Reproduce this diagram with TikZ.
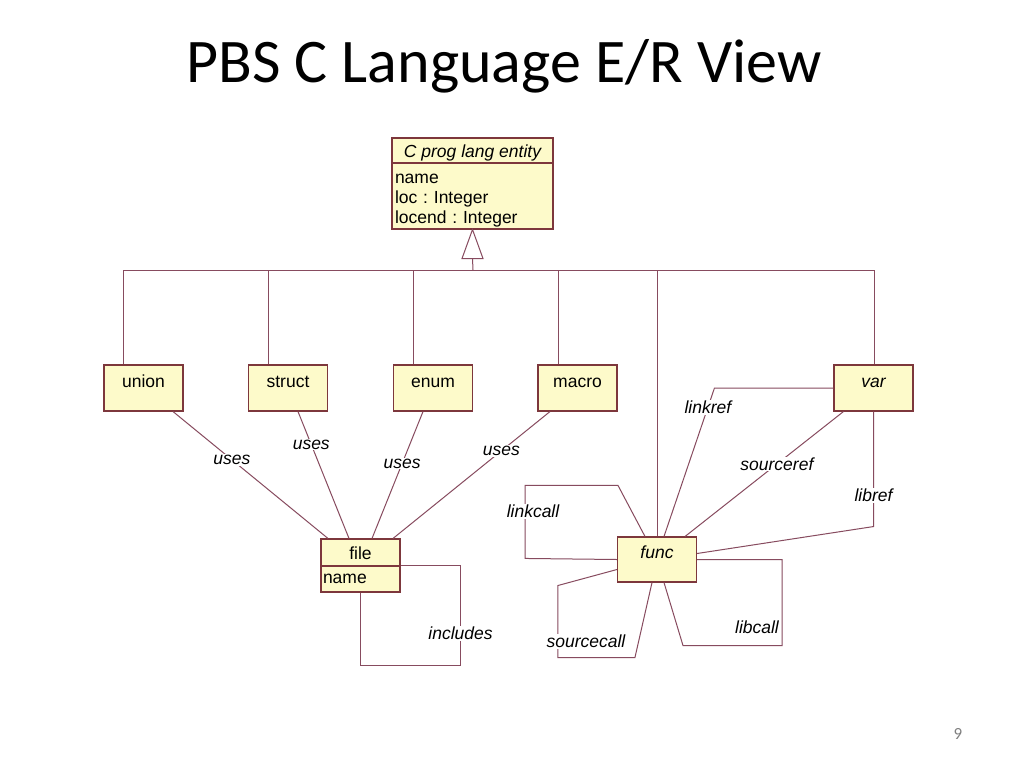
\documentclass[tikz,border=0pt]{standalone}
\usepackage{fontspec}
\setmainfont{Carlito}
\newfontfamily\umlfont{Liberation Sans}
\usetikzlibrary{calc}
\frenchspacing

\definecolor{boxfill}{RGB}{253,250,202}
\definecolor{boxline}{RGB}{125,55,60}
\definecolor{relline}{RGB}{135,75,95}

\tikzset{
  cls/.style={draw=boxline,fill=boxfill,line width=1.1pt,minimum width=79pt,minimum height=46pt,
    inner sep=0pt,text height=12pt,text depth=14pt,font=\umlfont\fontsize{17.5}{20}\selectfont},
  clspart/.style={draw=boxline,fill=boxfill,line width=1.1pt,inner sep=0pt,
    font=\umlfont\fontsize{17.5}{20}\selectfont},
  rel/.style={draw=relline,line width=1pt},
  lbl/.style={fill=white,inner sep=1pt,font=\umlfont\itshape\fontsize{17.5}{20}\selectfont}
}

\begin{document}
\begin{tikzpicture}[x=1pt,y=-1pt]
  \useasboundingbox[fill=white] (0,0) rectangle (1024,768);

  \node[anchor=base,font=\fontsize{62}{74}\selectfont] (title) at (504,82) {PBS C Language E/R View};
  \node[anchor=base,text=gray,font=\fontsize{17}{20}\selectfont] (pageno) at (958,739) {9};

  % base class
  \node[clspart,minimum width=161pt,minimum height=25pt,text height=13pt,text depth=0pt,
    font=\umlfont\itshape\fontsize{17.5}{20}\selectfont] (entityhead) at (472.5,150.5) {C prog lang entity};
  \node[clspart,minimum width=161pt,minimum height=66pt,text width=155pt,inner xsep=3pt,align=left] (entity) at (472.5,196)
    {\rule{0pt}{18pt}name\\loc : Integer\\locend : Integer};

  % entities
  \node[cls] (union)  at (143.5,388) {union};
  \node[cls] (struct) at (288,388)   {struct};
  \node[cls] (enum)   at (433,388)   {enum};
  \node[cls] (macro)  at (577.5,388) {macro};
  \node[cls,font=\umlfont\itshape\fontsize{17.5}{20}\selectfont] (var)  at (873.5,388) {var};
  \node[cls,minimum height=45pt,font=\umlfont\itshape\fontsize{17.5}{20}\selectfont] (func) at (657,559.5) {func};
  \node[clspart,minimum width=79pt,minimum height=27pt,text height=13pt,text depth=0pt] (filehead) at (360.5,552.5) {file};
  \node[clspart,minimum width=79pt,minimum height=26pt,text width=75pt,align=left] (fileattr) at (360.5,579) {name};

  % generalisation
  \coordinate (bar) at (473,270);
  \coordinate (barl) at (123,270);
  \coordinate (barr) at (874,270);
  \draw[rel,fill=white] (entity.south) -- ++(-10.5,29) -- ++(21,0) -- cycle;
  \draw[rel] ($(entity.south)+(0,29)$) -- (bar);
  \draw[rel] (barl) -- (barr);
  \foreach \n/\dx in {union/-20.5,struct/-20,enum/-20,macro/-19.5,func/0,var/0.5}{
    \coordinate (top) at ($(\n.north)+(\dx,0)$);
    \draw[rel] (top) -- (top |- bar);
  }

  % uses
  \draw[rel] ($(union.south)+(29.5,0)$) -- node[lbl,pos=.38] {uses} ($(filehead.north)+(-32.5,0)$);
  \draw[rel] ($(struct.south)+(10,0)$) -- node[lbl,pos=.26] {uses} ($(filehead.north)+(-11.5,0)$);
  \draw[rel] ($(enum.south)+(-10,0)$) -- node[lbl,pos=.41] {uses} ($(filehead.north)+(11.5,0)$);
  \draw[rel] ($(macro.south)+(-27.5,0)$) -- node[lbl,pos=.31] {uses} ($(filehead.north)+(32.5,0)$);
  \draw[rel] (fileattr.north east) -- ++(60,0) |- node[lbl,pos=.34] {includes} ($(fileattr.south)+(0,73)$) -- (fileattr.south);

  % func relations
  \draw[rel] (var.west) -- ++(-119,0) -- node[lbl,pos=.13] {linkref} ($(func.north)+(7,0)$);
  \draw[rel] ($(var.south west)+(10,0)$) -- node[lbl,pos=.42] {sourceref} ($(func.north east)+(-12,0)$);
  \draw[rel] (var.south) -- node[lbl,pos=.73] {libref} ++(0,115) -- ($(func.east)+(0,-6)$);
  \draw[rel] ($(func.north)+(-12,0)$) -- ++(-27,-51) -- ++(-93,0) -- node[lbl,pos=.36,xshift=8pt] {linkcall} ++(0,73) -- (func.west);
  \draw[rel] ($(func.west)+(0,10)$) -- ++(-59,16) -- node[lbl,pos=.78,xshift=28pt] {sourcecall} ++(0,72) -- ++(77,0) -- ($(func.south)+(-5,0)$);
  \draw[rel] ($(func.south)+(7,0)$) -- ++(19,63) -- ++(99,0) -- node[lbl,pos=.21,xshift=-25pt] {libcall} ++(0,-86) -- (func.east);
\end{tikzpicture}
\end{document}
